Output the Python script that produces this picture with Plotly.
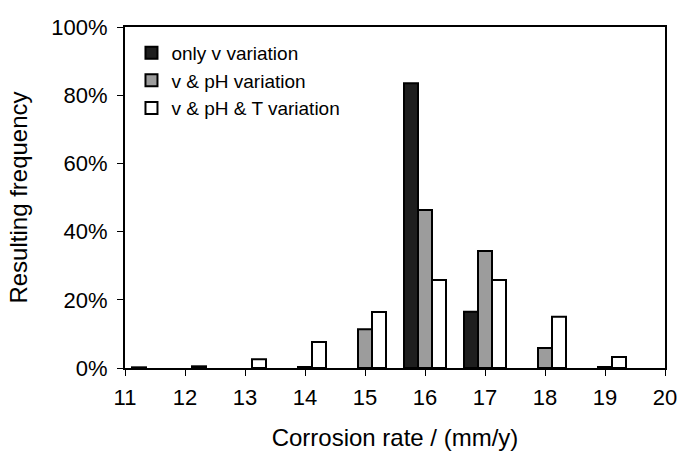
import plotly.graph_objects as go

# Corrosion-rate classes (mm/y) and resulting frequency (%) for each scenario
# (None = no occurrences in that class)
rates = [11, 12, 13, 14, 15, 16, 17, 18, 19]
only_v = [None, None, None, None, None, 83.5, 16.5, None, None]
v_ph = [None, None, None, 0.3, 11.4, 46.3, 34.3, 5.9, 0.3]
v_ph_t = [0.2, 0.5, 2.6, 7.6, 16.4, 25.8, 25.8, 15.0, 3.2]

names = ["only v variation", "v & pH variation", "v & pH & T variation"]
fills = ["#1e1e1e", "#9c9c9c", "#ffffff"]
series = [only_v, v_ph, v_ph_t]

fig = go.Figure()
for name, vals, col in zip(names, series, fills):
    fig.add_trace(go.Bar(
        x=rates, y=vals, name=name,
        marker=dict(color=col, line=dict(color="black", width=2)),
    ))

font_family = "Liberation Sans, Arial, sans-serif"
fig.update_layout(
    width=678, height=452,
    margin=dict(l=125, r=13, t=27, b=84),
    paper_bgcolor="white", plot_bgcolor="white",
    barmode="group", bargap=0.3, bargroupgap=0,
    font=dict(family=font_family, size=20, color="black"),
    showlegend=True,
    legend=dict(
        x=0.012, y=0.98, xanchor="left", yanchor="top",
        bgcolor="rgba(0,0,0,0)", font=dict(size=19),
        tracegroupgap=0, itemwidth=30,
    ),
)
fig.update_xaxes(
    range=[11, 20], tickmode="linear", tick0=11, dtick=1,
    showline=True, linecolor="black", linewidth=2, mirror=True,
    ticks="outside", ticklen=6, tickcolor="black", tickwidth=1,
    tickfont=dict(size=22), ticklabelstandoff=3,
    showgrid=False, zeroline=False, automargin=False,
    title=dict(text="Corrosion rate / (mm/y)", standoff=20),
)
fig.update_yaxes(
    range=[0, 100], tickmode="linear", tick0=0, dtick=20, ticksuffix="%",
    showline=True, linecolor="black", linewidth=2, mirror=True,
    ticks="outside", ticklen=6, tickcolor="black", tickwidth=1,
    tickfont=dict(size=22), ticklabelstandoff=5,
    showgrid=False, zeroline=False, automargin=False,
    title=dict(text="Resulting frequency", standoff=17),
)

fig.write_html("out.html")
